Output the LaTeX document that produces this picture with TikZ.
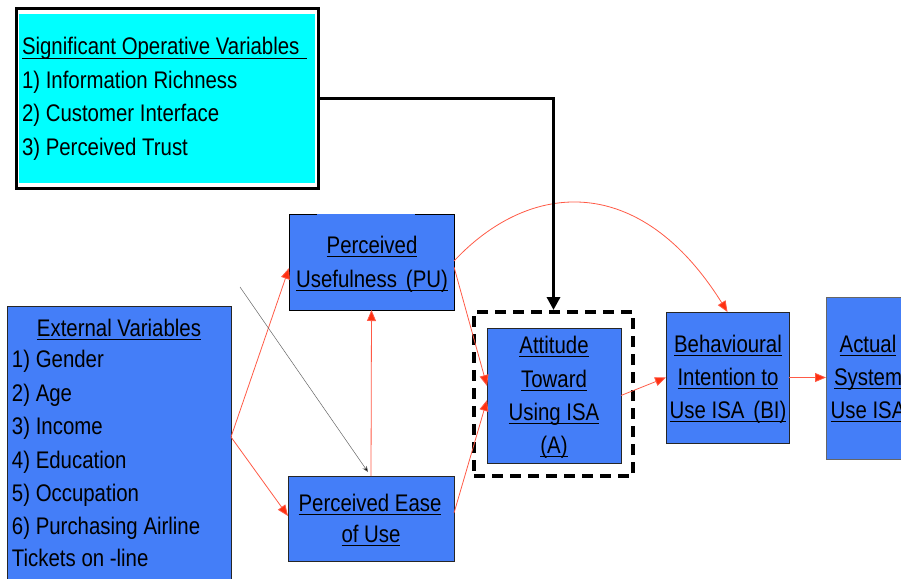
\documentclass[tikz,border=0pt]{standalone}
\usepackage{fontspec}
\setmainfont{Liberation Sans}[FakeStretch=0.85]
\usetikzlibrary{arrows.meta}
\definecolor{boxblue}{RGB}{68,126,248}
\definecolor{aqua}{RGB}{0,255,255}
\definecolor{arrred}{RGB}{255,48,16}
\definecolor{linered}{RGB}{255,90,70}
\newcommand\ulin[1]{\setbox0=\hbox{#1}\rlap{\rule[-4pt]{\wd0}{1.2pt}}\box0}
\tikzset{
  bluebox/.style={fill=boxblue, draw=black!85, line width=0.9pt, inner sep=0pt, outer sep=0pt},
  txt/.style={inner sep=0pt, outer sep=0pt, font=\fontsize{24}{33}\selectfont},
  redarrow/.style={draw=linered, line width=0.8pt, -{Triangle[length=11pt,width=9pt,fill=arrred]}},
}
\begin{document}
\begin{tikzpicture}[x=1pt,y=-1pt]
\useasboundingbox (0,0) rectangle (901,578);
\clip (0,0) rectangle (901,578);
% significant operative variables box
\node[draw=black, line width=3pt, fill=white, minimum width=302pt, minimum height=179pt, inner sep=0pt] (sov) at (167,98.5) {};
\fill[aqua] (19,14) rectangle (315,183);
\node[txt, anchor=base west] (sov1) at (22,55) {\ulin{Significant Operative Variables\hspace*{8pt}}};
\node[txt, anchor=base west] (sov2) at (22,88) {1) Information Richness};
\node[txt, anchor=base west] (sov3) at (22,121) {2) Customer Interface};
\node[txt, anchor=base west] (sov4) at (22,155) {3) Perceived Trust};

% boxes
\node[bluebox, draw=none, minimum width=165pt, minimum height=96pt] (pu) at (371.5,262) {};
\draw[black, line width=0.9pt] (317,214) -- (pu.north west) -- (pu.south west) -- (pu.south east) -- (pu.north east) -- (415,214);
\node[bluebox, minimum width=224pt, minimum height=284pt] (ev) at (119,448) {};
\node[bluebox, minimum width=166pt, minimum height=85pt] (peou) at (371,518.5) {};
\node[draw=black, line width=3.5pt, dash pattern=on 11pt off 7pt, minimum width=159pt, minimum height=164pt, inner sep=0pt, outer sep=0pt] (dash) at (553.5,394) {};
\node[bluebox, minimum width=134pt, minimum height=135pt] (att) at (554,395.5) {};
\node[bluebox, minimum width=123pt, minimum height=131pt] (bi) at (727.5,377.5) {};
\node[bluebox, draw=black!60, minimum width=124pt, minimum height=162pt] (act) at (888,378) {};

% texts
\node[txt, anchor=base] (pu1) at (372,253) {\ulin{Perceived}};
\node[txt, anchor=base] (pu2) at (372,287) {\ulin{Usefulness\hspace{9pt}(PU)}};

\node[txt, anchor=base] (ev0) at (119,336) {\ulin{External Variables}};
\node[txt, anchor=base west] (ev1) at (12,367) {1) Gender};
\node[txt, anchor=base west] (ev2) at (12,401) {2) Age};
\node[txt, anchor=base west] (ev3) at (12,434) {3) Income};
\node[txt, anchor=base west] (ev4) at (12,468) {4) Education};
\node[txt, anchor=base west] (ev5) at (12,501) {5) Occupation};
\node[txt, anchor=base west] (ev6) at (12,534) {6) Purchasing Airline};
\node[txt, anchor=base west] (ev7) at (12,566) {Tickets on -line};

\node[txt, anchor=base] (pe1) at (370,511) {\ulin{Perceived Ease}};
\node[txt, anchor=base] (pe2) at (371,542) {\ulin{of Use}};

\node[txt, anchor=base] (at1) at (554,353) {\ulin{Attitude}};
\node[txt, anchor=base] (at2) at (554,387) {\ulin{Toward}};
\node[txt, anchor=base] (at3) at (554,420) {\ulin{Using ISA}};
\node[txt, anchor=base] (at4) at (554,453) {\ulin{(A)}};

\node[txt, anchor=base] (bi1) at (728,352) {\ulin{Behavioural}};
\node[txt, anchor=base] (bi2) at (728,385) {\ulin{Intention to}};
\node[txt, anchor=base] (bi3) at (728,418) {\ulin{Use ISA\hspace{9pt}(BI)}};

\node[txt, anchor=base] (ac1) at (868,352) {\ulin{Actual}};
\node[txt, anchor=base] (ac2) at (868,385) {\ulin{System}};
\node[txt, anchor=base] (ac3) at (868,418) {\ulin{Use ISA}};

% connectors
\coordinate (evout) at (231,437);
\coordinate (gstart) at (240,287);
\draw[redarrow] (evout) -- ([yshift=-6pt]pu.west);
\draw[redarrow] (evout) -- ([yshift=2.5pt]peou.west);
\draw[redarrow] (peou.north) -- (pu.south);
\draw[redarrow] ([yshift=-5pt]pu.east) -- ([yshift=9.5pt]att.west);
\draw[redarrow] ([yshift=5.5pt]peou.east) -- ([yshift=-4.5pt]att.west);
\draw[redarrow] (att.east) -- (bi.west);
\draw[redarrow] (bi.east) -- (act.west |- bi.east);
\draw[redarrow] ([yshift=1pt]pu.east) .. controls (530,180) and (640,172) .. (bi.north);
\draw[black!60, line width=0.5pt, -{Stealth[length=6pt,width=5pt,fill=black]}] (gstart) -- ([xshift=-3pt,yshift=4pt]peou.north);
\draw[black, line width=3.5pt, -{Triangle[length=13pt,width=13pt]}] (sov.east) -| ([yshift=2pt]dash.north);
\end{tikzpicture}
\end{document}
